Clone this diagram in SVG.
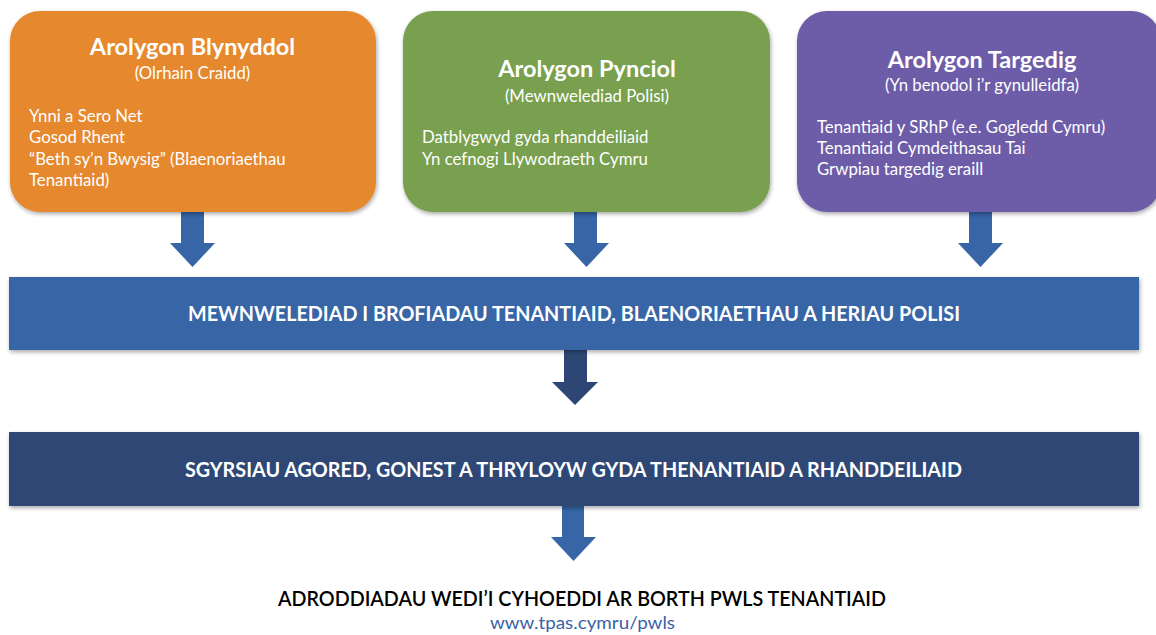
<svg xmlns="http://www.w3.org/2000/svg" width="1156" height="635" viewBox="0 0 1156 635">
<defs>
<filter id="sh" x="-5%" y="-5%" width="110%" height="120%">
<feGaussianBlur in="SourceAlpha" stdDeviation="2"/>
<feOffset dx="1" dy="2" result="b"/>
<feComponentTransfer><feFuncA type="linear" slope="0.35"/></feComponentTransfer>
<feMerge><feMergeNode/><feMergeNode in="SourceGraphic"/></feMerge>
</filter>
</defs>
<style>
text{font-family:Lato,"Liberation Sans",sans-serif;}
.t{font-size:23.5px;font-weight:bold;fill:#fff;text-anchor:middle;}
.s{font-size:16.8px;fill:#fff;text-anchor:middle;}
.b{font-size:16.8px;fill:#fff;}
.band{font-size:21px;font-weight:bold;fill:#fff;text-anchor:middle;}
.arr{fill:#3765A6;}
</style>
<rect width="1156" height="635" fill="#fff"/>
<g id="connectors">
<path class="arr" d="M181,212 H204 V243 H215 L192.5,267 L170,243 H181 Z"/>
<path class="arr" d="M574,212 H597 V243 H609 L586.5,267 L564,243 H574 Z"/>
<path class="arr" d="M969,212 H992 V243 H1003 L980.5,267 L958,243 H969 Z"/>
<path fill="#2E4674" d="M564,350 H587 V382 H598 L575,405 L552,382 H564 Z"/>
<path class="arr" d="M562,506 H584 V537 H596 L573.5,561 L551,537 H562 Z"/>
</g>
<g id="node-annual">
<rect x="10" y="11" width="366" height="201" rx="30" fill="#E5882F" filter="url(#sh)"/>
<text class="t" x="192.5" y="55">Arolygon Blynyddol</text>
<text class="s" x="192.5" y="79">(Olrhain Craidd)</text>
<text class="b" x="29" y="122">Ynni a Sero Net</text>
<text class="b" x="29" y="143">Gosod Rhent</text>
<text class="b" x="29" y="165">“Beth sy’n Bwysig” (Blaenoriaethau</text>
<text class="b" x="29" y="186">Tenantiaid)</text>
</g>
<g id="node-topic">
<rect x="403" y="11" width="367" height="201" rx="30" fill="#78A04F" filter="url(#sh)"/>
<text class="t" x="587" y="77">Arolygon Pynciol</text>
<text class="s" x="587" y="102">(Mewnwelediad Polisi)</text>
<text class="b" x="422" y="143">Datblygwyd gyda rhanddeiliaid</text>
<text class="b" x="422" y="165">Yn cefnogi Llywodraeth Cymru</text>
</g>
<g id="node-targeted">
<rect x="797" y="11" width="364" height="201" rx="30" fill="#6D5DA8" filter="url(#sh)"/>
<text class="t" x="982" y="68">Arolygon Targedig</text>
<text class="s" x="982" y="91">(Yn benodol i’r gynulleidfa)</text>
<text class="b" x="817" y="133">Tenantiaid y SRhP (e.e. Gogledd Cymru)</text>
<text class="b" x="817" y="154">Tenantiaid Cymdeithasau Tai</text>
<text class="b" x="817" y="175">Grwpiau targedig eraill</text>
</g>
<g id="node-insight">
<rect x="9" y="277" width="1130" height="73" fill="#3765A6" filter="url(#sh)"/>
<text class="band" x="574" y="321" textLength="772" lengthAdjust="spacingAndGlyphs">MEWNWELEDIAD I BROFIADAU TENANTIAID, BLAENORIAETHAU A HERIAU POLISI</text>
</g>
<g id="node-conversations">
<rect x="9" y="432" width="1130" height="74" fill="#2E4674" filter="url(#sh)"/>
<text class="band" x="573.5" y="477" textLength="777" lengthAdjust="spacingAndGlyphs">SGYRSIAU AGORED, GONEST A THRYLOYW GYDA THENANTIAID A RHANDDEILIAID</text>
</g>
<g id="node-reports">
<text x="582" y="606" font-size="21" font-weight="600" fill="#000" text-anchor="middle" textLength="608" lengthAdjust="spacingAndGlyphs">ADRODDIADAU WEDI’I CYHOEDDI AR BORTH PWLS TENANTIAID</text>
<text x="582.5" y="629" font-size="17" fill="#3A62A6" text-anchor="middle" textLength="185" lengthAdjust="spacingAndGlyphs">www.tpas.cymru/pwls</text>
</g>
</svg>
